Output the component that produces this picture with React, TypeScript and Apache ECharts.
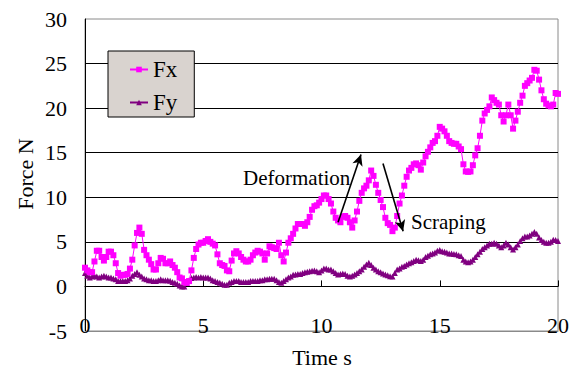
import React, { useEffect, useRef } from "react";
import * as echarts from "echarts";

const FONT = "Liberation Serif";

const TIME_STEP = 0.1;

const xTicks = [0, 5, 10, 15, 20];
const yTicks = [-5, 0, 5, 10, 15, 20, 25, 30];

const fxValues = [
  2.1, 1.8, 1.6, 1.6, 2.8, 4.0, 4.0, 3.3, 2.9, 3.3,
  3.9, 3.9, 3.5, 2.6, 1.5, 1.2, 1.3, 1.3, 1.4, 2.0,
  3.0, 4.6, 6.0, 6.6, 5.9, 4.1, 3.5, 3.0, 2.5, 1.9,
  1.9, 2.6, 3.2, 3.1, 2.6, 2.6, 2.8, 2.4, 2.1, 1.6,
  1.0, 0.9, 0.5, 0.4, 0.6, 1.8, 3.2, 4.2, 4.7, 4.9,
  4.9, 5.1, 5.3, 5.0, 4.8, 4.6, 3.6, 2.6, 2.4, 2.3,
  1.8, 1.7, 2.9, 3.7, 3.95, 3.7, 3.3, 3.0, 2.8, 2.8,
  3.0, 3.5, 3.8, 4.0, 3.9, 3.7, 3.0, 3.7, 4.5, 4.4,
  4.3, 4.2, 4.9, 3.5, 2.8, 3.8, 4.9, 5.4, 5.9, 6.5,
  7.0, 7.0, 7.0, 6.8, 7.2, 7.8, 8.6, 9.0, 9.1, 9.4,
  9.8, 10.2, 10.2, 9.8, 9.3, 8.4, 7.7, 7.4, 7.2, 7.8,
  7.9, 7.7, 7.2, 6.6, 7.4, 8.4, 9.6, 10.5, 11.0, 11.3,
  11.9, 13.0, 12.4, 11.4, 10.5, 9.7, 8.9, 7.7, 7.1, 6.9,
  6.2, 6.6, 7.9, 9.3, 10.2, 11.3, 12.3, 13.0, 13.3, 13.7,
  13.8, 13.6, 13.1, 13.9, 14.6, 15.1, 15.6, 16.1, 16.3, 16.9,
  17.9, 17.7, 17.4, 16.9, 16.3, 16.1, 16.0, 16.0, 15.7, 15.4,
  13.7, 12.9, 12.85, 12.9, 13.6, 14.7, 15.5, 16.9, 18.6, 19.4,
  19.8, 20.2, 21.2, 20.9, 20.6, 20.4, 19.2, 18.5, 19.2, 20.4,
  19.2, 17.7, 18.6, 19.6, 20.6, 21.4, 22.5, 22.8, 23.1, 23.4,
  24.3, 24.2, 23.2, 22.0, 21.0, 20.5, 20.3, 20.2, 20.4, 21.7,
  21.6,
];

const fyValues = [
  1.5, 1.2, 1.0, 1.1, 1.2, 1.1, 1.0, 1.1, 1.2, 1.1,
  1.0, 1.0, 0.9, 0.8, 0.6, 0.6, 0.6, 0.6, 0.7, 0.9,
  1.2, 1.4, 1.6, 1.3, 1.1, 0.9, 0.8, 0.7, 0.7, 0.6,
  0.6, 0.7, 0.8, 0.7, 0.7, 0.7, 0.65, 0.5, 0.4, 0.3,
  0.1, 0.0, 0.0, 0.4, 0.7, 0.95, 1.0, 1.05, 1.0, 1.05,
  1.0, 1.0, 1.0, 0.9, 0.7, 0.6, 0.5, 0.4, 0.3, 0.2,
  0.2, 0.4, 0.5, 0.6, 0.6, 0.6, 0.5, 0.5, 0.5, 0.5,
  0.6, 0.6, 0.6, 0.6, 0.7, 0.7, 0.8, 0.8, 0.85, 0.85,
  0.85, 0.7, 0.5, 0.4, 0.6, 0.8, 1.0, 1.1, 1.3, 1.35,
  1.4, 1.4, 1.5, 1.6, 1.65, 1.7, 1.75, 1.8, 1.7, 1.6,
  1.8, 2.0, 2.0, 1.9, 1.9, 1.7, 1.5, 1.35, 1.4, 1.45,
  1.4, 1.2, 1.1, 1.2, 1.35, 1.5, 1.7, 1.9, 2.2, 2.45,
  2.65, 2.4, 2.1, 1.9, 1.7, 1.6, 1.45, 1.35, 1.25, 1.15,
  1.1, 1.5, 1.9, 2.0, 2.2, 2.3, 2.45, 2.6, 2.7, 2.85,
  3.0, 2.95, 2.85, 3.0, 3.3, 3.45, 3.6, 3.7, 3.8, 4.0,
  4.1, 3.95, 3.9, 3.8, 3.7, 3.7, 3.65, 3.6, 3.5, 3.4,
  3.0, 2.8, 2.7, 2.8, 3.0, 3.3, 3.6, 3.9, 4.2, 4.4,
  4.6, 4.8, 4.8, 4.9, 4.8, 4.6, 4.4, 4.6, 4.9, 4.7,
  4.4, 4.15, 4.4, 4.7, 5.1, 5.4, 5.6, 5.6, 5.7, 5.9,
  6.1, 5.9, 5.5, 5.2, 5.0, 4.9, 4.9, 5.0, 5.25, 5.2,
  5.1,
];

// annotation arrows in data coordinates: [start, end]
const deformationArrow = [[10.7, 7.2], [11.67, 14.8]];
const scrapingArrow = [[12.6, 13.8], [13.45, 6.2]];

const toPairs = (vals: number[]) =>
  vals.map((v, i) => [Math.round(i * TIME_STEP * 10) / 10, v]);

export default function App() {
  const ref = useRef<HTMLDivElement>(null);

  useEffect(() => {
    if (!ref.current) return;
    const chart = echarts.init(ref.current, null, { renderer: "svg" });
    const xBase = {
      type: "value",
      min: xTicks[0],
      max: xTicks[xTicks.length - 1],
      interval: 5,
      splitLine: { show: false },
    };
    const option: any = {
      animation: false,
      backgroundColor: "#ffffff",
      grid: {
        left: 85,
        right: 12,
        top: 19,
        bottom: 42,
        show: true,
        borderColor: "#8a8a8a",
        borderWidth: 1,
        backgroundColor: "transparent",
        outerBoundsMode: "none",
        containLabel: false,
      },
      legend: {
        orient: "vertical",
        left: 108,
        top: 51,
        backgroundColor: "#d9d3cf",
        borderColor: "#000",
        borderWidth: 1,
        borderRadius: 0,
        padding: [7, 17, 3, 21],
        itemGap: 10,
        itemWidth: 18,
        itemHeight: 7,
        textStyle: { fontFamily: FONT, fontSize: 23, color: "#000" },
        data: ["Fx", "Fy"],
      },
      xAxis: [
        {
          ...xBase,
          position: "bottom",
          axisLine: { onZero: false, lineStyle: { color: "#8a8a8a", width: 1 } },
          axisTick: { show: false },
          axisLabel: {
            margin: -17,
            fontFamily: FONT,
            fontSize: 22,
            color: "#000",
            showMaxLabel: true,
            showMinLabel: true,
          },
        },
        {
          ...xBase,
          position: "top",
          axisLine: { onZero: true, lineStyle: { color: "#000", width: 1 } },
          axisTick: { show: true, inside: false, length: 6, lineStyle: { color: "#000" } },
          axisLabel: { show: false },
        },
      ],
      yAxis: {
        type: "value",
        min: yTicks[0],
        max: yTicks[yTicks.length - 1],
        interval: 5,
        axisLine: { show: true, onZero: false, lineStyle: { color: "#000", width: 1 } },
        axisTick: { show: false },
        axisLabel: { margin: 18, fontFamily: FONT, fontSize: 22, color: "#000" },
        splitLine: {
          show: true,
          showMinLine: false,
          showMaxLine: false,
          lineStyle: { color: "#000", width: 1 },
        },
      },
      series: [
        {
          name: "Fx",
          type: "line",
          xAxisIndex: 0,
          data: toPairs(fxValues),
          symbol: "rect",
          symbolSize: 6,
          showAllSymbol: true,
          itemStyle: { color: "#ff00ff" },
          lineStyle: { color: "#ff00ff", width: 1 },
          z: 3,
          markLine: {
            silent: true,
            symbol: ["none", "arrow"],
            symbolSize: [8, 11],
            label: { show: false },
            lineStyle: { color: "#000", width: 1.6, type: "solid" },
            data: [
              [
                { coord: deformationArrow[0] },
                { coord: deformationArrow[1] },
              ],
              [
                { coord: scrapingArrow[0] },
                { coord: scrapingArrow[1] },
              ],
            ],
          },
        },
        {
          name: "Fy",
          type: "line",
          xAxisIndex: 0,
          data: toPairs(fyValues),
          symbol: "triangle",
          symbolSize: 6,
          showAllSymbol: true,
          itemStyle: { color: "#800080" },
          lineStyle: { color: "#800080", width: 1 },
          z: 2,
        },
      ],
      graphic: [
        {
          type: "text",
          x: 25,
          y: 174,
          rotation: Math.PI / 2,
          style: {
            text: "Force N",
            fontFamily: FONT,
            fontSize: 22,
            fill: "#000",
            textAlign: "center",
            textVerticalAlign: "middle",
          },
        },
        {
          type: "text",
          x: 322,
          y: 357,
          style: {
            text: "Time s",
            fontFamily: FONT,
            fontSize: 22,
            fill: "#000",
            textAlign: "center",
            textVerticalAlign: "middle",
          },
        },
        {
          type: "text",
          x: 243,
          y: 178,
          style: {
            text: "Deformation",
            fontFamily: FONT,
            fontSize: 21,
            fill: "#000",
            textAlign: "left",
            textVerticalAlign: "middle",
          },
        },
        {
          type: "text",
          x: 411,
          y: 222,
          style: {
            text: "Scraping",
            fontFamily: FONT,
            fontSize: 21,
            fill: "#000",
            textAlign: "left",
            textVerticalAlign: "middle",
          },
        },
      ],
    };
    chart.setOption(option);
    return () => chart.dispose();
  }, []);

  return (
    <div
      ref={ref}
      style={{ position: "absolute", left: 0, top: 0, width: 570, height: 373, background: "#fff" }}
    />
  );
}
